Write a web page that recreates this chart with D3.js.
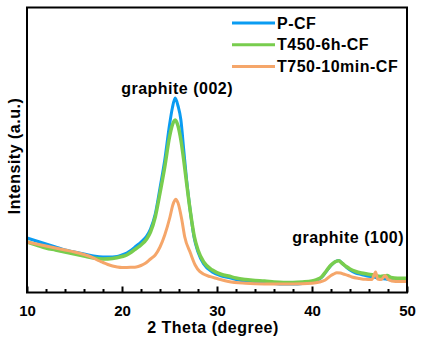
<!DOCTYPE html>
<html>
<head>
<meta charset="utf-8">
<script src="https://cdn.jsdelivr.net/npm/d3@7"></script>
<style>
  html, body { margin: 0; padding: 0; background: #fff; }
  svg { display: block; }
  text { font-family: "Liberation Sans", Arial, sans-serif; font-weight: bold; fill: #000; }
</style>
</head>
<body>
<svg id="chart" width="424" height="340"></svg>
<script>
// XRD patterns: 2 theta (degree) vs intensity (a.u.)
const seriesNames = ["P-CF", "T450-6h-CF", "T750-10min-CF"];
const seriesColors = ["#0a9cf2", "#78cd4e", "#f5a66a"];

const pcfTheta = [10, 10.5, 11, 12, 13, 14, 15, 16, 17, 18, 19, 19.5, 20, 20.5, 21, 21.5, 22, 22.6, 23, 23.5, 24, 24.5, 25, 25.3, 25.6, 25.9, 26.2, 26.5, 26.8, 27.2, 27.6, 28, 28.6, 29.5, 30.5, 31.2, 32, 33, 34, 35, 36, 37, 38, 39, 40, 40.5, 41, 41.5, 42, 42.4, 42.8, 43.2, 43.6, 44, 44.6, 45.2, 45.8, 46.5, 47.2, 47.8, 48.3, 49, 50];
const pcfIntensity = [54.5, 53, 51.5, 48.5, 45.5, 42.5, 40.5, 38.5, 36.5, 35.5, 35.5, 36, 37.5, 39.5, 42.5, 46.5, 50.5, 56.5, 63.5, 78.5, 104.5, 132.5, 167.5, 184.5, 194.5, 186.5, 172.5, 142.5, 112.5, 80.5, 54.5, 40.5, 28.5, 20.5, 16.5, 15, 13, 11.5, 10.5, 10, 9, 8.5, 8.5, 9, 10.5, 12, 15, 21, 27, 30.5, 32, 29, 25.5, 22.5, 19.5, 18, 16.5, 15.5, 14, 13.5, 12.5, 12, 12];

const t450Theta = [10, 11, 12, 13, 14, 15, 16, 17, 18, 19, 20, 20.5, 21, 21.5, 22, 22.6, 23, 23.5, 24, 24.5, 25, 25.3, 25.6, 25.9, 26.2, 26.5, 26.8, 27.2, 27.6, 28, 28.6, 29.5, 30.5, 31.2, 32, 33, 34, 35, 36, 37, 38, 39, 40, 40.5, 41, 41.5, 42, 42.4, 42.8, 43.2, 43.6, 44, 44.6, 45.2, 45.8, 46.5, 47.2, 47.9, 48.3, 49, 50];
const t450Intensity = [50.5, 47.5, 44.5, 42.5, 40.5, 38.5, 36.5, 34.5, 33.5, 34, 36, 37.5, 40.5, 44, 47.5, 53.5, 60.5, 75.5, 99.5, 125.5, 155.5, 167.5, 172.5, 166.5, 152.5, 132.5, 109.5, 80.5, 56.5, 42.5, 30.5, 22.5, 18, 16.5, 14.5, 13, 12, 11.5, 10.5, 10, 10, 10.5, 11.5, 13, 15.5, 21.5, 27.5, 30.5, 31.8, 29, 26, 23.5, 21, 19.5, 18.5, 17.5, 16, 17, 15, 14.2, 14.2];

const t750Theta = [10, 11, 12, 13, 14, 15, 16, 16.5, 17, 17.5, 18, 18.5, 19, 19.5, 20, 20.5, 21, 21.5, 22, 22.5, 23, 23.5, 24, 24.5, 25.05, 25.35, 25.65, 25.9, 26.3, 26.6, 27.2, 27.7, 28.2, 29.3, 30, 31.2, 33, 35, 36.5, 38, 40, 40.8, 41.4, 42, 42.3, 42.6, 43, 43.3, 43.8, 44.2, 45, 45.6, 46.3, 46.7, 46.9, 47.3, 47.7, 48, 48.8, 50];
const t750Intensity = [50.5, 48.5, 46.5, 44.5, 42.5, 40.5, 38, 36.5, 34.5, 32, 30, 28, 26.5, 25.5, 25, 25, 25.2, 25.5, 27, 29.5, 33.5, 37.5, 45.5, 57.5, 75.5, 87.5, 93.2, 89.5, 72.5, 55.8, 39.5, 27.5, 20.8, 15.8, 14, 11, 9.2, 8.5, 8.5, 8.5, 9.2, 10.5, 12.5, 17, 18.5, 19.8, 19.5, 18.5, 17, 15.5, 14, 13.2, 13, 20.5, 13.5, 13, 17, 13, 11, 11];

const xTicks = [10, 20, 30, 40, 50];
const xMinorTicks = [12, 14, 16, 18, 22, 24, 26, 28, 32, 34, 36, 38, 42, 44, 46, 48];

const peakLabels = ["graphite (002)", "graphite (100)"];
const peakLabelAt = [[25.8, 198.5], [43.8, 50]];

const series = [
  { name: seriesNames[0], color: seriesColors[0], width: 3, theta: pcfTheta, y: pcfIntensity },
  { name: seriesNames[1], color: seriesColors[1], width: 3.5, theta: t450Theta, y: t450Intensity },
  { name: seriesNames[2], color: seriesColors[2], width: 3, theta: t750Theta, y: t750Intensity }
];

const svg = d3.select("#chart");
const plot = { left: 27, right: 407, top: 7.5, bottom: 292.5 };

const x = d3.scaleLinear().domain([10, 50]).range([plot.left, plot.right]);
const y = d3.scaleLinear().domain([0, 285]).range([plot.bottom, plot.top]);

const line = d3.line()
  .x(d => x(d[0]))
  .y(d => y(d[1]))
  .curve(d3.curveMonotoneX);

svg.append("clipPath").attr("id", "plotClip")
  .append("rect")
  .attr("x", plot.left).attr("y", plot.top)
  .attr("width", plot.right - plot.left).attr("height", plot.bottom - plot.top);

const lines = svg.append("g").attr("clip-path", "url(#plotClip)");
series.forEach(s => {
  lines.append("path")
    .datum(d3.zip(s.theta, s.y))
    .attr("fill", "none")
    .attr("stroke", s.color)
    .attr("stroke-width", s.width)
    .attr("stroke-linejoin", "round")
    .attr("d", line);
});

// frame
svg.append("rect")
  .attr("x", plot.left).attr("y", plot.top)
  .attr("width", plot.right - plot.left).attr("height", plot.bottom - plot.top)
  .attr("fill", "none").attr("stroke", "#000").attr("stroke-width", 2);

// bottom axis: inward ticks, major and minor
const xAxis = d3.axisBottom(x).tickValues(xTicks).tickSize(-6).tickPadding(13).tickFormat(d3.format("d"));
const gx = svg.append("g").attr("transform", `translate(0,${plot.bottom})`).call(xAxis);
gx.select(".domain").remove();
gx.selectAll(".tick line").attr("stroke", "#000").attr("stroke-width", 2);
gx.selectAll(".tick text").attr("font-size", 15).attr("font-family", "Liberation Sans, Arial, sans-serif").attr("font-weight", "bold");

const xMinor = d3.axisBottom(x).tickValues(xMinorTicks).tickSize(-3.5).tickFormat("");
const gxm = svg.append("g").attr("transform", `translate(0,${plot.bottom})`).call(xMinor);
gxm.select(".domain").remove();
gxm.selectAll(".tick line").attr("stroke", "#000").attr("stroke-width", 2);

// axis titles
svg.append("text")
  .attr("x", 213).attr("y", 333)
  .attr("text-anchor", "middle")
  .attr("font-size", 16).attr("letter-spacing", 0.5)
  .text("2 Theta (degree)");

svg.append("text")
  .attr("transform", "translate(19.5,156) rotate(-90)")
  .attr("text-anchor", "middle")
  .attr("font-size", 16).attr("letter-spacing", 0.5)
  .text("Intensity (a.u.)");

// peak annotations
peakLabels.forEach((t, i) => {
  svg.append("text")
    .attr("x", x(peakLabelAt[i][0]))
    .attr("y", y(peakLabelAt[i][1]))
    .attr("text-anchor", "middle")
    .attr("font-size", 16).attr("letter-spacing", 0.5)
    .text(t);
});

// legend
const legend = svg.append("g").attr("transform", "translate(232,23)");
series.forEach((s, i) => {
  const g = legend.append("g").attr("transform", `translate(0,${i * 21.8})`);
  g.append("line").attr("x1", 0).attr("x2", 43).attr("y1", 0).attr("y2", 0)
    .attr("stroke", s.color).attr("stroke-width", 3);
  g.append("text").attr("x", 45).attr("y", 5.5)
    .attr("font-size", 16).attr("letter-spacing", 0.5)
    .text(s.name);
});
</script>
</body>
</html>
